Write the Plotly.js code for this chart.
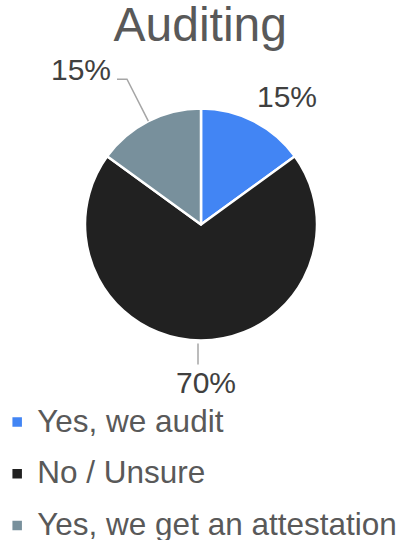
<!DOCTYPE html>
<html>
<head>
<meta charset="utf-8">
<script src="https://cdn.plot.ly/plotly-3.0.1.min.js"></script>
<style>html,body{margin:0;padding:0;background:#fff}#chart{width:403px;height:540px}</style>
</head>
<body>
<div id="chart"></div>
<script>
// ---- data ----
const categories = ['Yes, we audit', 'No / Unsure', 'Yes, we get an attestation'];
const values = [15, 70, 15];
const percentLabels = ['15%', '70%', '15%'];
const titleText = 'Auditing';

// ---- style ----
const colors = ['#4285F4', '#212121', '#78909C'];
const W = 403, H = 540;
const pieBox = {x0: 85, x1: 317, y0: 108, y1: 341};
const cx = (pieBox.x0 + pieBox.x1) / 2, cy = (pieBox.y0 + pieBox.y1) / 2;
const R = Math.min(pieBox.x1 - pieBox.x0, pieBox.y1 - pieBox.y0) / 2;
const px2x = x => x / W, px2y = y => 1 - y / H;

// per-slice label placement (pixel offsets from the slice's outer mid point)
const labelStyle = [
  {dx: 33, dy: -25, anchor: 'center', leader: null},
  {dx: 5, dy: 42, anchor: 'center', leader: {type: 'drop', from: 3, to: 24, shift: -3}},
  {dx: -14, dy: -56, anchor: 'right', leader: {type: 'elbow', out: 47, hor: -10}}
];

const total = values.reduce((a, b) => a + b, 0);
let cum = 0;
const annotations = [], shapes = [];
values.forEach((v, i) => {
  const mid = (cum + v / 2) / total * 2 * Math.PI;
  cum += v;
  const sx = Math.sin(mid), cy_ = Math.cos(mid);
  const ex = cx + R * sx, ey = cy - R * cy_;
  const st = labelStyle[i];
  let lx = ex + st.dx, ly = ey + st.dy;
  if (st.leader && st.leader.type === 'elbow') {
    const ox = cx + (R + st.leader.out) * sx, oy = cy - (R + st.leader.out) * cy_;
    const hx = ox + st.leader.hor;
    shapes.push({type: 'path', xref: 'paper', yref: 'paper',
      path: `M${px2x(ex)},${px2y(ey)} L${px2x(ox)},${px2y(oy)} L${px2x(hx)},${px2y(oy)}`,
      line: {color: '#A6A6A6', width: 1.5}});
    lx = hx - 4; ly = oy - 10;
  } else if (st.leader && st.leader.type === 'drop') {
    const p0x = cx + (R + st.leader.from) * sx + st.leader.shift, p0y = cy - (R + st.leader.from) * cy_;
    const p1x = cx + (R + st.leader.to) * sx + st.leader.shift, p1y = cy - (R + st.leader.to) * cy_;
    shapes.push({type: 'line', xref: 'paper', yref: 'paper',
      x0: px2x(p0x), y0: px2y(p0y), x1: px2x(p1x), y1: px2y(p1y),
      line: {color: '#A6A6A6', width: 1.5}});
  }
  annotations.push({xref: 'paper', yref: 'paper', x: px2x(lx), y: px2y(ly),
    text: percentLabels[i], showarrow: false, xanchor: st.anchor, yanchor: 'middle',
    font: {family: 'Liberation Sans, Arial, sans-serif', size: 30, color: '#404040'}});
});

const trace = {
  type: 'pie',
  labels: categories.map(c => `<span style="font-size:31.5px;baseline-shift:5px">${c}</span>`),
  values: values,
  sort: false,
  direction: 'clockwise',
  rotation: 0,
  textinfo: 'none',
  hoverinfo: 'skip',
  marker: {colors: colors, line: {color: '#FFFFFF', width: 2.5}},
  domain: {x: [px2x(pieBox.x0), px2x(pieBox.x1)], y: [px2y(pieBox.y1), px2y(pieBox.y0)]}
};

const layout = {
  width: W, height: H,
  margin: {l: 0, r: 0, t: 0, b: 0, autoexpand: false},
  paper_bgcolor: '#FFFFFF',
  font: {family: 'Liberation Sans, Arial, sans-serif', color: '#595959'},
  title: {text: titleText, x: 0.497, xanchor: 'center', y: 1 - 7 / H, yanchor: 'top', yref: 'container',
    pad: {t: 0, b: 0},
    font: {family: 'Liberation Sans, Arial, sans-serif', size: 48, color: '#595959'}},
  showlegend: true,
  legend: {orientation: 'v', x: -0.007, xanchor: 'left', y: 1 - 391 / H, yanchor: 'top',
    font: {family: 'Liberation Sans, Arial, sans-serif', size: 37.5, color: '#595959'},
    bgcolor: 'rgba(0,0,0,0)', itemclick: false, itemdoubleclick: false},
  annotations: annotations,
  shapes: shapes
};

Plotly.newPlot('chart', [trace], layout, {staticPlot: true, displayModeBar: false});
</script>
</body>
</html>
